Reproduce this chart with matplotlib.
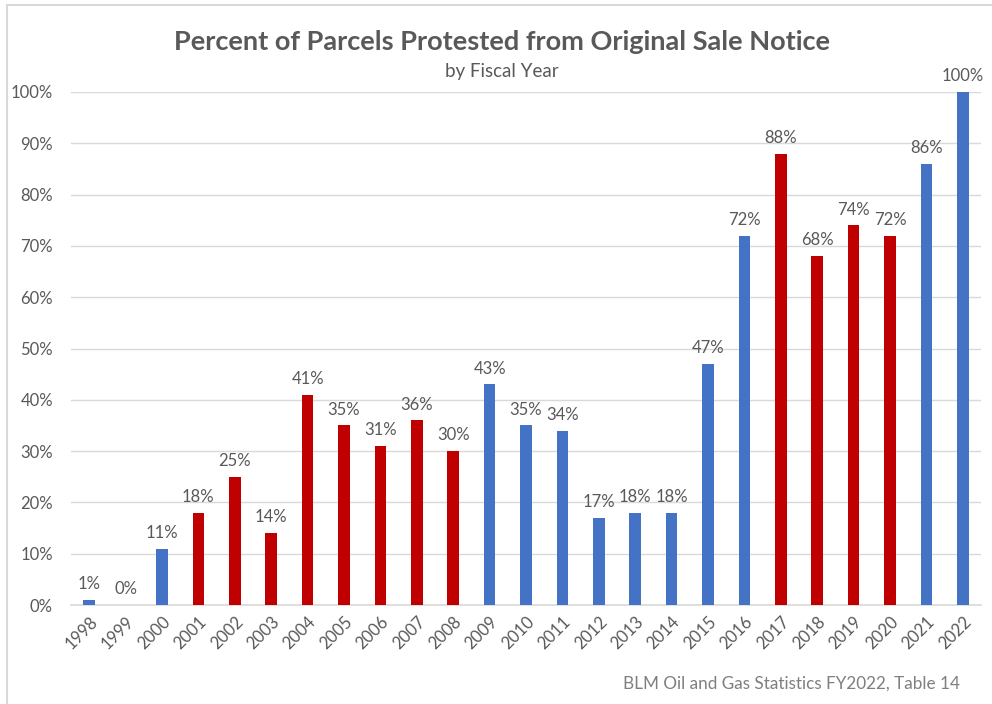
import matplotlib
matplotlib.use("Agg")
import matplotlib.pyplot as plt
from matplotlib.patches import Rectangle

years = [str(y) for y in range(1998, 2023)]
values = [1, 0, 11, 18, 25, 14, 41, 35, 31, 36, 30, 43, 35, 34, 17, 18, 18, 47, 72, 88, 68, 74, 72, 86, 100]
groups = ["b", "b", "b", "r", "r", "r", "r", "r", "r", "r", "r",
          "b", "b", "b", "b", "b", "b", "b", "b", "r", "r", "r", "r", "b", "b"]
color_map = {"b": "#4472C4", "r": "#C00000"}
yticks = list(range(0, 101, 10))

plt.rcParams['font.family'] = ['Lato', 'DejaVu Sans']
txt = "#595959"

fig = plt.figure(figsize=(9.92, 7.04), dpi=100)
fig.patches.append(Rectangle((7/992, -0.1), 1.2, 1 - 5/704 + 0.1, transform=fig.transFigure,
                             fill=False, edgecolor="#D9D9D9", linewidth=1.5))
ax = fig.add_axes([71/992, 1 - 605/704, (981 - 71)/992, (605 - 92)/704])

x = list(range(len(years)))
bars = ax.bar(x, values, width=0.32, color=[color_map[g] for g in groups], zorder=3)
for xi, v in zip(x, values):
    ax.text(xi, v + 1.5, f"{v}%", ha="center", va="bottom", fontsize=12, color=txt)

ax.set_xlim(-0.5, len(years) - 0.5)
ax.set_ylim(0, 100)
ax.set_yticks(yticks)
ax.set_yticklabels([f"{t}%" for t in yticks], fontsize=12, color=txt)
ax.set_xticks(x)
ax.set_xticklabels(years, rotation=45, ha="right", rotation_mode="anchor", fontsize=12, color=txt)
ax.grid(axis="y", color="#D9D9D9", linewidth=1, zorder=0)
for s in ["top", "right", "left"]:
    ax.spines[s].set_visible(False)
ax.spines["bottom"].set_color("#D9D9D9")
ax.spines["bottom"].set_linewidth(1.2)
ax.tick_params(axis="y", length=0, pad=13)
ax.tick_params(axis="x", length=0, pad=6)

fig.text(0.506, 1 - 42/704, "Percent of Parcels Protested from Original Sale Notice",
         ha="center", va="center", fontsize=19.5, fontweight="bold", color=txt)
fig.text(0.506, 1 - 72/704, "by Fiscal Year", ha="center", va="center", fontsize=13.5, color=txt)
fig.text(960/992, 1 - 684/704, "BLM Oil and Gas Statistics FY2022, Table 14",
         ha="right", va="center", fontsize=12.3, color="#7F7F7F")

fig.savefig("out.png", dpi=100)
